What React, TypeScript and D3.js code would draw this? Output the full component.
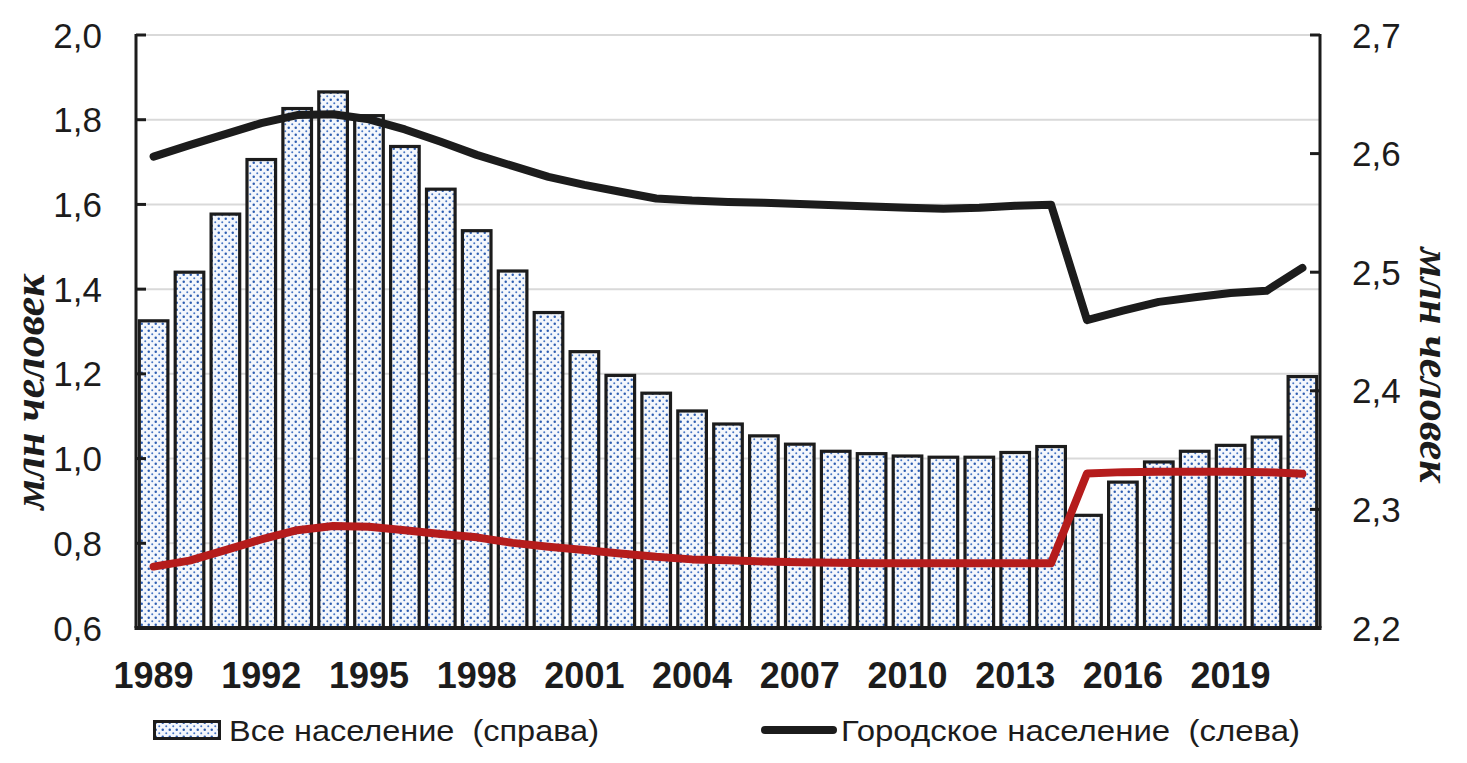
import React from "react";
import * as d3 from "d3";

const years = [
  1989, 1990, 1991, 1992, 1993, 1994, 1995, 1996, 1997, 1998, 1999, 2000, 2001,
  2002, 2003, 2004, 2005, 2006, 2007, 2008, 2009, 2010, 2011, 2012, 2013, 2014,
  2015, 2016, 2017, 2018, 2019, 2020, 2021,
];

// все население, млн (правая ось)
const totalPop = [
  2.459, 2.5, 2.549, 2.595, 2.638, 2.652, 2.632, 2.606, 2.57, 2.535, 2.501,
  2.466, 2.433, 2.413, 2.398, 2.383, 2.372, 2.362, 2.355, 2.349, 2.347, 2.345,
  2.344, 2.344, 2.348, 2.353, 2.295, 2.323, 2.34, 2.349, 2.354, 2.361, 2.412,
];

// городское население, млн (левая ось)
const urbanPop = [
  1.713, 1.74, 1.766, 1.792, 1.811, 1.813, 1.801, 1.777, 1.748, 1.717, 1.691,
  1.665, 1.646, 1.63, 1.614, 1.609, 1.606, 1.604, 1.601, 1.598, 1.595, 1.592,
  1.59, 1.592, 1.597, 1.599, 1.327, 1.349, 1.37, 1.381, 1.391, 1.396, 1.45,
];

// красная линия (левая ось)
const redSeries = [
  0.745, 0.759, 0.784, 0.809, 0.831, 0.841, 0.839, 0.831, 0.822, 0.814, 0.801,
  0.792, 0.784, 0.776, 0.768, 0.762, 0.76, 0.757, 0.755, 0.754, 0.753, 0.753,
  0.753, 0.753, 0.753, 0.753, 0.965, 0.968, 0.969, 0.969, 0.969, 0.968, 0.964,
];

const leftTicks = [0.6, 0.8, 1.0, 1.2, 1.4, 1.6, 1.8, 2.0];
const rightTicks = [2.2, 2.3, 2.4, 2.5, 2.6, 2.7];
const xLabelYears = [1989, 1992, 1995, 1998, 2001, 2004, 2007, 2010, 2013, 2016, 2019];

const fmt = (v: number) => v.toFixed(1).replace(".", ",");

const App = () => {
  const left = 136;
  const right = 1320;
  const top = 35;
  const bottom = 628;

  const x = d3
    .scaleBand<number>()
    .domain(years)
    .range([left, right])
    .paddingInner(0.12)
    .paddingOuter(0.05);
  const yL = d3.scaleLinear().domain([0.6, 2.0]).range([bottom, top]);
  const yR = d3.scaleLinear().domain([2.2, 2.7]).range([bottom, top]);

  const cx = (yr: number) => (x(yr) as number) + x.bandwidth() / 2;

  const lineL = d3
    .line<number>()
    .x((_, i) => cx(years[i]))
    .y((d) => yL(d));

  const sans = "'Liberation Sans', Arial, sans-serif";
  const serif = "'Liberation Serif', 'Times New Roman', serif";

  return (
    <div style={{ position: "absolute", left: 0, top: 0 }}>
      <svg width={1467} height={763} style={{ display: "block", background: "#fff" }}>
        <defs>
          <pattern id="dots" width={7} height={7} patternUnits="userSpaceOnUse">
            <rect width={7} height={7} fill="#f4f7fc" />
            <circle cx={1.75} cy={1.75} r={1.25} fill="#2c5cb0" />
            <circle cx={5.25} cy={5.25} r={1.0} fill="#4675c4" />
          </pattern>
        </defs>

        {/* сетка */}
        {leftTicks
          .filter((t) => t > 0.6)
          .map((t) => (
            <line
              key={"g" + t}
              x1={left}
              x2={right}
              y1={yL(t)}
              y2={yL(t)}
              stroke="#d9d9d9"
              strokeWidth={2}
            />
          ))}

        {/* столбцы */}
        {years.map((yr, i) => (
          <rect
            key={yr}
            x={(x(yr) as number) + 1.5}
            y={yR(totalPop[i])}
            width={x.bandwidth() - 3}
            height={bottom - yR(totalPop[i])}
            fill="url(#dots)"
            stroke="#1c1c1c"
            strokeWidth={3.2}
          />
        ))}

        {/* оси */}
        <line x1={left} x2={left} y1={top - 1} y2={bottom} stroke="#1c1c1c" strokeWidth={3} />
        <line x1={right} x2={right} y1={top - 1} y2={bottom} stroke="#1c1c1c" strokeWidth={3} />
        <line x1={left - 1.5} x2={right + 1.5} y1={bottom} y2={bottom} stroke="#1c1c1c" strokeWidth={4} />
        {leftTicks.map((t) => (
          <line key={"lt" + t} x1={left} x2={left + 10} y1={yL(t)} y2={yL(t)} stroke="#1c1c1c" strokeWidth={3} />
        ))}
        {rightTicks.map((t) => (
          <line key={"rt" + t} x1={right - 10} x2={right} y1={yR(t)} y2={yR(t)} stroke="#1c1c1c" strokeWidth={3} />
        ))}

        {/* линии */}
        <path
          d={lineL(redSeries) || ""}
          fill="none"
          stroke="#b51c1c"
          strokeWidth={8}
          strokeLinejoin="round"
          strokeLinecap="round"
        />
        <path
          d={lineL(urbanPop) || ""}
          fill="none"
          stroke="#1c1c1c"
          strokeWidth={8}
          strokeLinejoin="round"
          strokeLinecap="round"
        />

        {/* подписи осей */}
        {leftTicks.map((t) => (
          <text
            key={"ll" + t}
            x={102}
            y={yL(t)}
            dy="0.36em"
            textAnchor="end"
            fontFamily={sans}
            fontSize={35}
            fill="#1c1c1c"
          >
            {fmt(t)}
          </text>
        ))}
        {rightTicks.map((t) => (
          <text
            key={"rl" + t}
            x={1352}
            y={yR(t)}
            dy="0.36em"
            textAnchor="start"
            fontFamily={sans}
            fontSize={35}
            fill="#1c1c1c"
          >
            {fmt(t)}
          </text>
        ))}
        {xLabelYears.map((yr) => (
          <text
            key={"x" + yr}
            x={cx(yr)}
            y={688}
            textAnchor="middle"
            fontFamily={sans}
            fontSize={36}
            fontWeight="bold"
            fill="#1c1c1c"
          >
            {yr}
          </text>
        ))}

        <text
          transform="translate(44,392) rotate(-90)"
          textAnchor="middle"
          fontFamily={serif}
          fontSize={44}
          fontWeight="bold"
          fontStyle="italic"
          fill="#1c1c1c"
        >
          млн человек
        </text>
        <text
          transform="translate(1420,365) rotate(90)"
          textAnchor="middle"
          fontFamily={serif}
          fontSize={44}
          fontWeight="bold"
          fontStyle="italic"
          fill="#1c1c1c"
        >
          млн человек
        </text>

        {/* легенда */}
        <rect x={154.5} y={721.5} width={65} height={17} fill="url(#dots)" stroke="#1c1c1c" strokeWidth={3} />
        <text
          x={229}
          y={741}
          fontFamily={sans}
          fontSize={29}
          fill="#1c1c1c"
          textLength={370}
          lengthAdjust="spacingAndGlyphs"
          style={{ whiteSpace: "pre" }}
        >
          {"Все население  (справа)"}
        </text>
        <line x1={765} x2={833} y1={730} y2={730} stroke="#1c1c1c" strokeWidth={8} strokeLinecap="round" />
        <text
          x={841}
          y={741}
          fontFamily={sans}
          fontSize={29}
          fill="#1c1c1c"
          textLength={459}
          lengthAdjust="spacingAndGlyphs"
          style={{ whiteSpace: "pre" }}
        >
          {"Городское население  (слева)"}
        </text>
      </svg>
    </div>
  );
};

export default App;
